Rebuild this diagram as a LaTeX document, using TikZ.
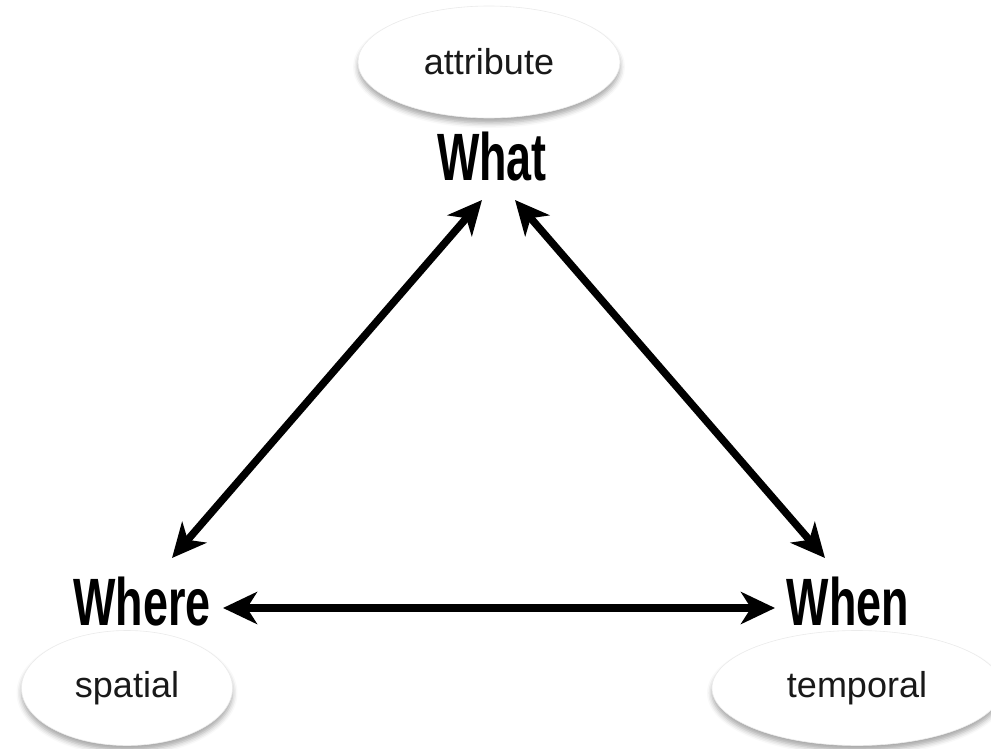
\documentclass[tikz,border=0pt]{standalone}
\usepackage{fontspec}
\setmainfont{Liberation Sans}
\newfontfamily\condbold[FakeStretch=0.67]{Liberation Sans Bold}
\usetikzlibrary{arrows.meta,shapes.geometric,shadows.blur}
\begin{document}
\begin{tikzpicture}[x=1pt,y=-1pt,
  oval/.style={ellipse, fill=white, draw=black!8, line width=0.6pt, inner sep=0pt,
    font=\fontsize{36}{40}\selectfont, text=black!90,
    blur shadow={shadow xshift=0pt, shadow yshift=-5pt, shadow blur radius=5pt, shadow opacity=35}},
  term/.style={font=\condbold\fontsize{67}{70}\selectfont, inner sep=0pt, anchor=base},
  link/.style={line width=7.5pt, {Stealth[length=34pt,width=32pt,inset=10pt]}-{Stealth[length=34pt,width=32pt,inset=10pt]}}]
\useasboundingbox (0,0) rectangle (991,749);

\node[oval, minimum width=262pt, minimum height=112pt] (attr) at (489,62) {attribute};
\node[oval, minimum width=211pt, minimum height=115pt] (spat) at (127,688) {spatial};
\node[oval, minimum width=290pt, minimum height=115pt] (temp) at (857,688) {temporal};

\node[term] (what) at (492,180) {What};
\node[term] (where) at (142,625) {Where};
\node[term] (when) at (848,625) {When};

\coordinate (a1) at (482,200); \coordinate (a2) at (172,558);
\coordinate (b1) at (515,200); \coordinate (b2) at (825,558);
\coordinate (c1) at (223,608); \coordinate (c2) at (775,608);

\draw[link] (a1) -- (a2);
\draw[link] (b1) -- (b2);
\draw[link] (c1) -- (c2);
\end{tikzpicture}
\end{document}
